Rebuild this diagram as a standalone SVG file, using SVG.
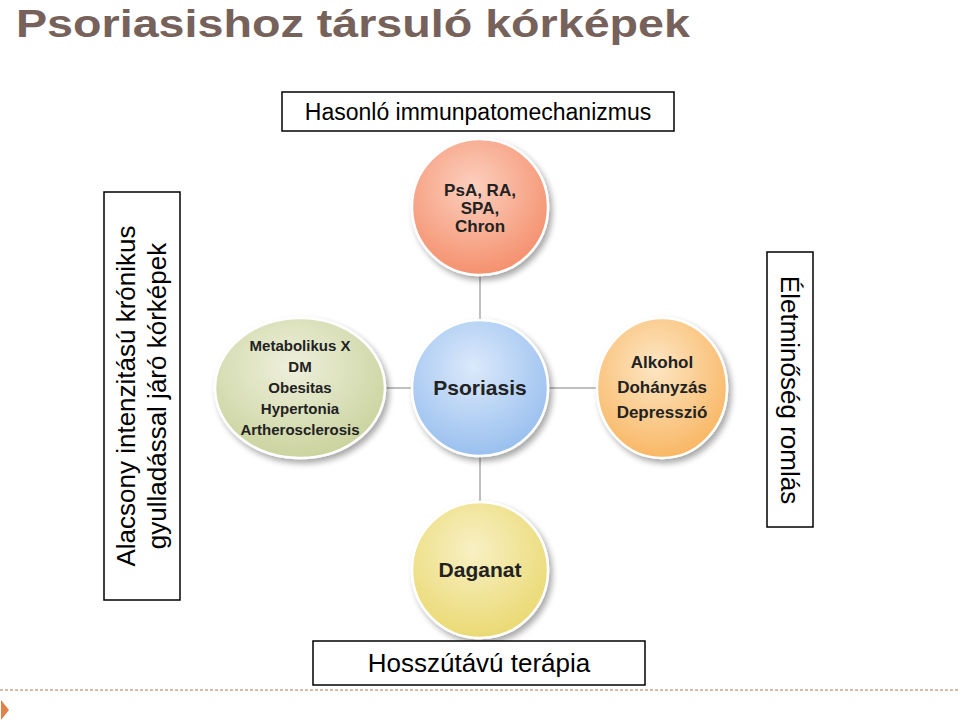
<svg xmlns="http://www.w3.org/2000/svg" width="960" height="723" viewBox="0 0 960 723">
<defs>
<filter id="sh" x="-20%" y="-20%" width="150%" height="150%"><feGaussianBlur in="SourceAlpha" stdDeviation="3"/><feOffset dx="3" dy="4"/><feComponentTransfer><feFuncA type="linear" slope="0.35"/></feComponentTransfer><feMerge><feMergeNode/><feMergeNode in="SourceGraphic"/></feMerge></filter>
<radialGradient id="gR" cx="0.45" cy="0.35" r="0.7"><stop offset="0" stop-color="#fcd0bf"/><stop offset="1" stop-color="#f48c68"/></radialGradient>
<radialGradient id="gB" cx="0.45" cy="0.35" r="0.7"><stop offset="0" stop-color="#dbe9fb"/><stop offset="1" stop-color="#95bdee"/></radialGradient>
<radialGradient id="gY" cx="0.45" cy="0.35" r="0.7"><stop offset="0" stop-color="#f8f0c4"/><stop offset="1" stop-color="#e9d86e"/></radialGradient>
<radialGradient id="gG" cx="0.45" cy="0.35" r="0.7"><stop offset="0" stop-color="#eef0dc"/><stop offset="1" stop-color="#c8d19a"/></radialGradient>
<radialGradient id="gO" cx="0.45" cy="0.35" r="0.7"><stop offset="0" stop-color="#fde6c4"/><stop offset="1" stop-color="#f8b45e"/></radialGradient>
</defs>
<style>
text{font-family:"Liberation Sans",Arimo,Arial,Helvetica,sans-serif}
.n{stroke:#ffffff;stroke-width:2.5;filter:url(#sh)}
.t{font-weight:bold;fill:#222;text-anchor:middle}
.b{fill:#fff;stroke:#000;stroke-width:1.5}
.bt{fill:#000;text-anchor:middle}
</style>
<text x="16" y="37" font-weight="bold" font-size="39" fill="#76625a" textLength="674" lengthAdjust="spacingAndGlyphs">Psoriasishoz társuló kórképek</text>
<line x1="0" y1="690" x2="960" y2="690" stroke="#c8a890" stroke-width="1.5" stroke-dasharray="3,2"/>
<polygon points="1,700 9,710 1,720" fill="#e0834a"/>
<g id="connectors" stroke="#aaaaaa" stroke-width="1.5">
<line x1="480" y1="275" x2="480" y2="320"/>
<line x1="480" y1="456" x2="480" y2="502"/>
<line x1="385" y1="388" x2="412" y2="388"/>
<line x1="548" y1="388" x2="597" y2="388"/>
</g>
<g id="top"><circle class="n" cx="480" cy="207" r="68" fill="url(#gR)"/>
<text class="t" x="480" y="196" font-size="17">PsA, RA,</text><text class="t" x="480" y="214" font-size="17">SPA,</text><text class="t" x="480" y="232" font-size="17">Chron</text></g>
<g id="center"><circle class="n" cx="480" cy="388" r="68" fill="url(#gB)"/>
<text class="t" x="480" y="395" font-size="21">Psoriasis</text></g>
<g id="bottom"><circle class="n" cx="480" cy="570" r="68" fill="url(#gY)"/>
<text class="t" x="480" y="577" font-size="21">Daganat</text></g>
<g id="left"><ellipse class="n" cx="300" cy="388" rx="85" ry="70" fill="url(#gG)"/>
<text class="t" x="300" y="351" font-size="15">Metabolikus  X</text><text class="t" x="300" y="372" font-size="15">DM</text><text class="t" x="300" y="393" font-size="15">Obesitas</text><text class="t" x="300" y="414" font-size="15">Hypertonia</text><text class="t" x="300" y="435" font-size="15">Artherosclerosis</text></g>
<g id="right"><ellipse class="n" cx="662" cy="388" rx="65" ry="70" fill="url(#gO)"/>
<text class="t" x="662" y="368" font-size="17">Alkohol</text><text class="t" x="662" y="393" font-size="17">Dohányzás</text><text class="t" x="662" y="418" font-size="17">Depresszió</text></g>
<g id="box-top"><rect class="b" x="282" y="92" width="392" height="39"/><text class="bt" x="478" y="120" font-size="23">Hasonló immunpatomechanizmus</text></g>
<g id="box-left"><rect class="b" x="104" y="192" width="76" height="408"/>
<text class="bt" font-size="26" transform="translate(135,396) rotate(-90)">Alacsony intenzitású krónikus</text>
<text class="bt" font-size="26" transform="translate(166,396) rotate(-90)">gyulladással járó kórképek</text></g>
<g id="box-right"><rect class="b" x="767" y="252" width="46" height="275"/>
<text class="bt" font-size="26" transform="translate(781,390) rotate(90)">Életminőség romlás</text></g>
<g id="box-bottom"><rect class="b" x="313" y="641" width="332" height="44"/><text class="bt" x="479" y="672" font-size="26">Hosszútávú terápia</text></g>
</svg>
